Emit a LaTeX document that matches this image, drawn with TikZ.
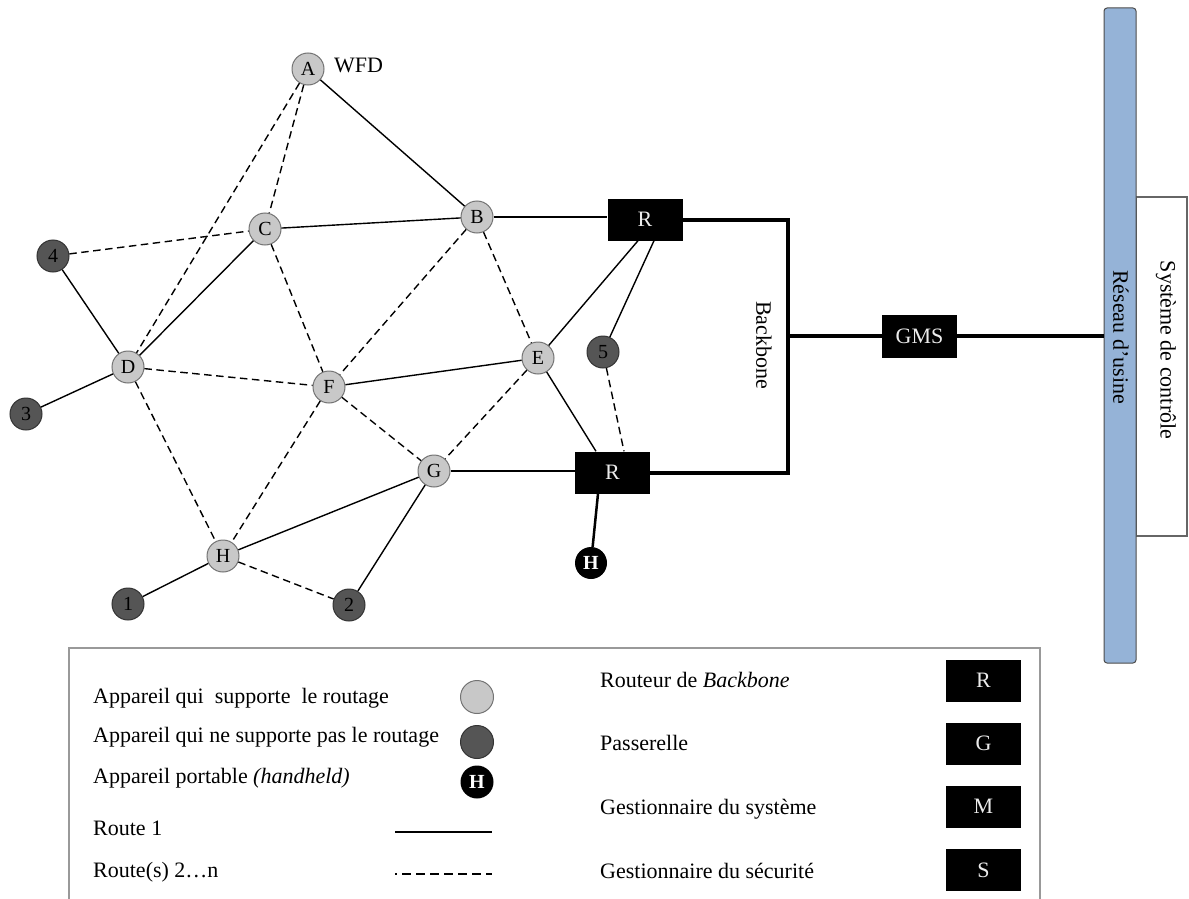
\documentclass[tikz,border=0pt]{standalone}
\usepackage{fontspec}
\setmainfont{Liberation Serif}
\usetikzlibrary{calc}
\definecolor{routing}{HTML}{C8C8C8}
\definecolor{nonrouting}{HTML}{555555}
\definecolor{usinebar}{HTML}{95B3D7}
\begin{document}
\begin{tikzpicture}[x=1pt,y=-1pt,
  every node/.style={font=\fontsize{22}{26}\selectfont},
  lbl/.style={inner sep=0pt},
  rdev/.style={circle,draw=black!55,fill=routing,minimum size=32pt,inner sep=0pt,line width=1pt,font=\fontsize{20}{23}\selectfont},
  ndev/.style={circle,draw=black!80,fill=nonrouting,minimum size=32pt,inner sep=0pt,line width=1pt,font=\fontsize{20}{23}\selectfont},
  hdev/.style={circle,fill=black,text=white,minimum size=32pt,inner sep=0pt,font=\fontsize{20}{23}\selectfont\bfseries},
  blackbox/.style={rectangle,fill=black,text=white!92!black,minimum width=75pt,minimum height=42pt,inner sep=0pt},
  route1/.style={line width=1.4pt},
  routeN/.style={line width=1.4pt,dash pattern=on 7.5pt off 4.5pt},
  trunk/.style={line width=4pt},
  frame/.style={draw=black!40,line width=1.5pt},
]
\useasboundingbox (0,0) rectangle (1189,899);

% control system box and factory network bar
\node[draw=black!60,line width=1.5pt,fill=white,minimum width=51pt,minimum height=339pt,inner sep=0pt] (ctrl) at (1161.5,366.5) {};
\node[rotate=-90,lbl] (ctrltxt) at (1166,350) {Système de contrôle};
\node[draw=black!70,line width=1pt,fill=usinebar,rounded corners=3pt,minimum width=32pt,minimum height=655pt,inner sep=0pt] (bar) at (1120,335.5) {};
\node[rotate=-90,lbl] (bartxt) at (1121,337) {Réseau d’usine};

% mesh devices
\node[rdev] (A) at (308,69) {A};
\node[lbl,anchor=west] (wfd) at (334,65) {WFD};
\node[rdev] (B) at (477,217) {B};
\node[rdev] (C) at (265,229) {C};
\node[rdev] (D) at (128,367) {D};
\node[rdev] (E) at (538,358) {E};
\node[rdev] (F) at (329,387) {F};
\node[rdev] (G) at (434,471) {G};
\node[rdev] (H) at (223,556) {H};

\node[ndev] (n4) at (53,256) {4};
\node[ndev] (n3) at (26,414) {3};
\node[ndev] (n5) at (603,352) {5};
\node[ndev] (n1) at (128,604) {1};
\node[ndev] (n2) at (349,605) {2};
\node[hdev] (hh) at (591,563) {H};

% backbone routers and gateway
\node[blackbox] (R1) at (645,219.5) {R};
\node[blackbox] (R2) at (612.5,472.5) {R};
\node[blackbox,minimum height=43pt] (GMS) at (919.5,336) {GMS};
\coordinate (bbtop) at (788,219.5);
\coordinate (bbbot) at (788,472.5);
\coordinate (bbmid) at (788,336);
\node[rotate=-90,lbl] (bbtxt) at (764,345) {Backbone};

% backbone trunk
\draw[trunk] (R1.east) -- (bbtop) -- (bbbot) -- (R2.east);
\draw[trunk] (bbmid) -- (GMS.west);
\draw[trunk] (GMS.east) -- (GMS.east -| bar.west);

% primary routes
\draw[route1] (A) -- (B);
\draw[route1] (C) -- (B);
\draw[route1] (B) -- (R1.west |- B);
\draw[route1] (C) -- (D);
\draw[route1] (n4) -- (D);
\draw[route1] (n3) -- (D);
\draw[route1] (F) -- (E);
\draw[route1] (E) -- ($(R1.south)+(-7,0)$);
\draw[route1] ($(R1.south)+(9,0)$) -- (n5);
\draw[route1] (E) -- ($(R2.north)+(-16.5,0)$);
\draw[route1] (G) -- (R2.west |- G);
\draw[route1] (G) -- (H);
\draw[route1] (H) -- (n1);
\draw[route1] (G) -- (n2);
\draw[line width=2.5pt] ($(R2.south)+(-14.5,0)$) -- (hh);

% alternative routes
\draw[routeN] (A) -- (C);
\draw[routeN] (A) -- (D);
\draw[routeN] (n4) -- (C);
\draw[routeN] (C) -- (F);
\draw[routeN] (B) -- (F);
\draw[routeN] (B) -- (E);
\draw[routeN] (D) -- (F);
\draw[routeN] (D) -- (H);
\draw[routeN] (F) -- (H);
\draw[routeN] (F) -- (G);
\draw[routeN] (E) -- (G);
\draw[routeN] (H) -- (n2);
\draw[routeN] (n5) -- ($(R2.north)+(11.5,0)$);

% legend
\draw[frame] (69,905) -- (69,648) -- (1040,648) -- (1040,905);

\node[lbl,anchor=base west] (l1) at (93,703) {Appareil qui\ \ supporte\ \ le routage};
\node[lbl,anchor=base west] (l2) at (93,742) {Appareil qui ne supporte pas le routage};
\node[lbl,anchor=base west] (l3) at (93,783) {Appareil portable \textit{(handheld)}};
\node[lbl,anchor=base west] (l4) at (93,835) {Route 1};
\node[lbl,anchor=base west] (l5) at (93,877) {Route(s) 2…n};

\node[rdev,minimum size=33pt] (k1) at (477,697) {};
\node[ndev,minimum size=33pt] (k2) at (477,742) {};
\node[hdev,minimum size=33pt] (k3) at (477,782) {H};
\coordinate (k4a) at (395,832);
\coordinate (k4b) at (492,832);
\draw[route1] (k4a) -- (k4b);
\coordinate (k5a) at (395,874);
\coordinate (k5b) at (492,874);
\draw[line width=1.4pt,dash pattern=on 9pt off 5pt,dash phase=7pt] (k5a) -- (k5b);

\node[lbl,anchor=base west] (r1) at (600,687) {Routeur de \textit{Backbone}};
\node[lbl,anchor=base west] (r2) at (600,750) {Passerelle};
\node[lbl,anchor=base west] (r3) at (600,814) {Gestionnaire du système};
\node[lbl,anchor=base west] (r4) at (600,878) {Gestionnaire du sécurité};

\node[blackbox] (kR) at (983.5,680.5) {R};
\node[blackbox] (kG) at (983.5,743.5) {G};
\node[blackbox] (kM) at (983.5,806.5) {M};
\node[blackbox] (kS) at (983.5,870) {S};
\end{tikzpicture}
\end{document}
